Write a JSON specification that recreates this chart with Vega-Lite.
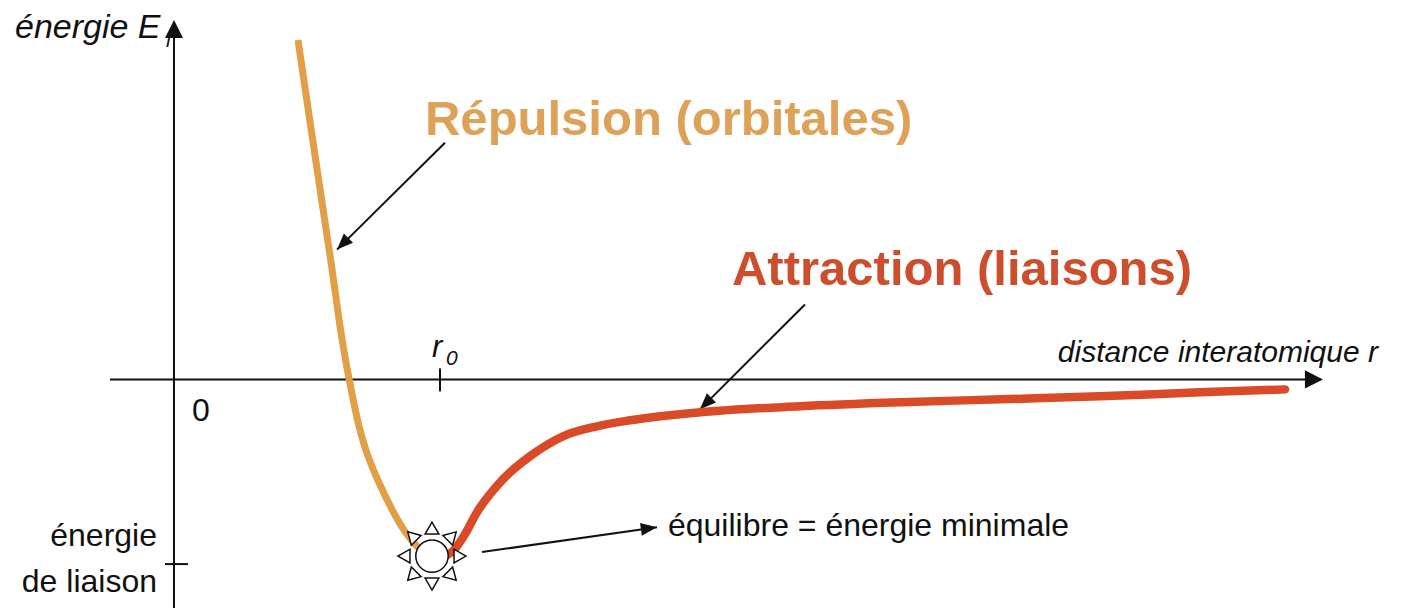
{
  "$schema": "https://vega.github.io/schema/vega-lite/v6.json",
  "width": 1409,
  "height": 609,
  "autosize": {"type": "fit", "contains": "padding"},
  "padding": 0,
  "background": "white",
  "config": {"view": {"stroke": null}, "text": {"font": "Liberation Sans"}},
  "datasets": {
    "repulsion": [
      {"r": 0.4662, "E": 1.8378}, {"r": 0.5075, "E": 1.4324}, {"r": 0.5489, "E": 1.0270},
      {"r": 0.5902, "E": 0.6486}, {"r": 0.6241, "E": 0.2703}, {"r": 0.6579, "E": 0.0},
      {"r": 0.6880, "E": -0.2162}, {"r": 0.7180, "E": -0.3784}, {"r": 0.7632, "E": -0.5405},
      {"r": 0.8233, "E": -0.7189}, {"r": 0.8722, "E": -0.8378}, {"r": 0.9173, "E": -0.9135},
      {"r": 0.9549, "E": -0.9514}
    ],
    "attraction": [
      {"r": 1.0, "E": -0.9622}, {"r": 1.0489, "E": -0.9297}, {"r": 1.0940, "E": -0.8378},
      {"r": 1.1391, "E": -0.7189}, {"r": 1.1880, "E": -0.6216}, {"r": 1.2368, "E": -0.5405},
      {"r": 1.3383, "E": -0.4162}, {"r": 1.4624, "E": -0.3081}, {"r": 1.5902, "E": -0.2541},
      {"r": 1.7143, "E": -0.2216}, {"r": 1.9774, "E": -0.1784}, {"r": 2.3534, "E": -0.1459},
      {"r": 2.7293, "E": -0.1243}, {"r": 3.1053, "E": -0.1081}, {"r": 3.4812, "E": -0.0919},
      {"r": 3.8571, "E": -0.0703}, {"r": 4.1767, "E": -0.0541}
    ],
    "axes": [
      {"r": 0, "r2": 0, "E": -1.2378, "E2": 1.8649},
      {"r": -0.2406, "r2": 4.2632, "E": 0, "E2": 0},
      {"r": 1, "r2": 1, "E": 0.0595, "E2": -0.0649},
      {"r": -0.0338, "r2": 0.0526, "E": -1, "E2": -1}
    ],
    "axisHeads": [
      {"r": 0, "E": 1.9459, "angle": 0},
      {"r": 4.3195, "E": 0, "angle": 90}
    ],
    "pointers": [
      {"r": 1.0188, "r2": 0.6128, "E": 1.2811, "E2": 0.7027},
      {"r": 2.3722, "r2": 1.9774, "E": 0.4054, "E2": -0.1622},
      {"r": 1.1579, "r2": 1.8158, "E": -0.9351, "E2": -0.8000}
    ],
    "pointerHeads": [
      {"r": 0.6128, "E": 0.7027, "angle": 225},
      {"r": 1.9774, "E": -0.1622, "angle": 225},
      {"r": 1.8158, "E": -0.8000, "angle": 82}
    ],
    "rays": [
      {"r": 0.9699, "E": -0.8054, "angle": 0},
      {"r": 1.0451, "E": -0.8486, "angle": 45},
      {"r": 1.0752, "E": -0.9568, "angle": 90},
      {"r": 1.0451, "E": -1.0649, "angle": 135},
      {"r": 0.9699, "E": -1.1081, "angle": 180},
      {"r": 0.8947, "E": -1.0649, "angle": 225},
      {"r": 0.8647, "E": -0.9568, "angle": 270},
      {"r": 0.8947, "E": -0.8486, "angle": 315}
    ],
    "minimum": [{"r": 0.9699, "E": -0.9568}],
    "italicLabels": [
      {"r": -0.5977, "E": 1.8486, "label": "énergie E"}
    ],
    "rLabel": [
      {"r": 0.9699, "E": 0.1189, "label": "r"}
    ],
    "subscripts": [
      {"r": -0.0300, "E": 1.8000, "label": "l"},
      {"r": 1.0226, "E": 0.0757, "label": "0"}
    ],
    "axisTitle": [{"r": 4.5263, "E": 0.0919, "label": "distance interatomique r"}],
    "plainLabels": [
      {"r": 0.0677, "E": -0.2270, "label": "0"},
      {"r": 1.8571, "E": -0.8486, "label": "équilibre = énergie minimale"}
    ],
    "bindingLabels": [
      {"r": -0.0639, "E": -0.9027, "label": "énergie"},
      {"r": -0.0639, "E": -1.1514, "label": "de liaison"}
    ],
    "repLabel": [{"r": 0.9436, "E": 1.3243, "label": "Répulsion (orbitales)"}],
    "attLabel": [{"r": 2.0977, "E": 0.5135, "label": "Attraction (liaisons)"}]
  },
  "encoding": {
    "x": {"field": "r", "type": "quantitative", "scale": {"domain": [-0.6541, 4.6429], "nice": false, "zero": false}, "axis": null},
    "y": {"field": "E", "type": "quantitative", "scale": {"domain": [-1.2378, 2.0541], "nice": false, "zero": false}, "axis": null}
  },
  "layer": [
    {
      "data": {"name": "axes"},
      "mark": {"type": "rule", "color": "#111111", "strokeWidth": 2},
      "encoding": {"x2": {"field": "r2"}, "y2": {"field": "E2"}}
    },
    {
      "data": {"name": "axisHeads"},
      "mark": {"type": "point", "shape": "M0,0L-0.5,1L0.5,1Z", "filled": true, "color": "#111111", "size": 1300, "opacity": 1},
      "encoding": {"angle": {"field": "angle", "type": "quantitative", "scale": null}}
    },
    {
      "data": {"name": "pointers"},
      "mark": {"type": "rule", "color": "#111111", "strokeWidth": 2},
      "encoding": {"x2": {"field": "r2"}, "y2": {"field": "E2"}}
    },
    {
      "data": {"name": "pointerHeads"},
      "mark": {"type": "point", "shape": "M0,0L-0.4,1L0.4,1Z", "filled": true, "color": "#111111", "size": 1050, "opacity": 1},
      "encoding": {"angle": {"field": "angle", "type": "quantitative", "scale": null}}
    },
    {
      "data": {"name": "repulsion"},
      "mark": {"type": "line", "color": "#E2A046", "strokeWidth": 7, "interpolate": "basis"},
      "encoding": {}
    },
    {
      "data": {"name": "attraction"},
      "mark": {"type": "line", "color": "#D94A27", "strokeWidth": 8.5, "interpolate": "monotone", "strokeCap": "round"},
      "encoding": {}
    },
    {
      "data": {"name": "rays"},
      "mark": {"type": "point", "shape": "triangle-up", "filled": true, "fill": "white", "stroke": "#111111", "strokeWidth": 1.5, "size": 190, "opacity": 1},
      "encoding": {"angle": {"field": "angle", "type": "quantitative", "scale": null}}
    },
    {
      "data": {"name": "minimum"},
      "mark": {"type": "point", "shape": "circle", "filled": true, "fill": "white", "stroke": "#111111", "strokeWidth": 1.5, "size": 1050, "opacity": 1}
    },
    {
      "data": {"name": "italicLabels"},
      "mark": {"type": "text", "align": "left", "baseline": "alphabetic", "fontSize": 34, "fontStyle": "italic", "color": "#111111"},
      "encoding": {"text": {"field": "label"}}
    },
    {
      "data": {"name": "rLabel"},
      "mark": {"type": "text", "align": "left", "baseline": "alphabetic", "fontSize": 31, "fontStyle": "italic", "color": "#111111"},
      "encoding": {"text": {"field": "label"}}
    },
    {
      "data": {"name": "subscripts"},
      "mark": {"type": "text", "align": "left", "baseline": "alphabetic", "fontSize": 21, "fontStyle": "italic", "color": "#111111"},
      "encoding": {"text": {"field": "label"}}
    },
    {
      "data": {"name": "axisTitle"},
      "mark": {"type": "text", "align": "right", "baseline": "alphabetic", "fontSize": 30, "fontStyle": "italic", "color": "#111111"},
      "encoding": {"text": {"field": "label"}}
    },
    {
      "data": {"name": "plainLabels"},
      "mark": {"type": "text", "align": "left", "baseline": "alphabetic", "fontSize": 32, "color": "#111111"},
      "encoding": {"text": {"field": "label"}}
    },
    {
      "data": {"name": "bindingLabels"},
      "mark": {"type": "text", "align": "right", "baseline": "alphabetic", "fontSize": 32, "color": "#111111"},
      "encoding": {"text": {"field": "label"}}
    },
    {
      "data": {"name": "repLabel"},
      "mark": {"type": "text", "align": "left", "baseline": "alphabetic", "fontSize": 49, "fontWeight": "bold", "color": "#DDA258"},
      "encoding": {"text": {"field": "label"}}
    },
    {
      "data": {"name": "attLabel"},
      "mark": {"type": "text", "align": "left", "baseline": "alphabetic", "fontSize": 49, "fontWeight": "bold", "color": "#CC4E2C"},
      "encoding": {"text": {"field": "label"}}
    }
  ]
}
